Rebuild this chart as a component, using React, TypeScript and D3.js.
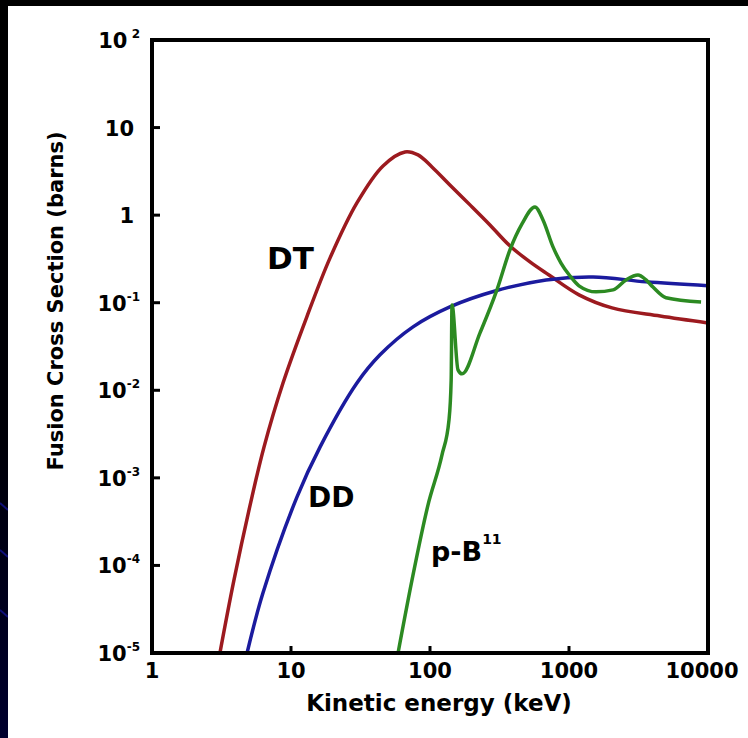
import React, { useEffect, useRef } from 'react';
import { select, scaleLog, line, curveCatmullRom, curveMonotoneX } from 'd3';

// energies in keV, cross sections in barns
const dtEnergy = [3.08, 3.89, 5.24, 6.4, 8.76, 13, 19.1, 29.8, 45.9, 66.1, 82, 103.3, 139, 194, 270, 370, 524, 718, 1180, 2040, 4520, 10000];
const dtSigma = [1e-5, 6.85e-5, 6.07e-4, 2.26e-3, 0.0121, 0.069, 0.325, 1.38, 3.65, 5.27, 4.87, 3.55, 2.21, 1.31, 0.773, 0.457, 0.292, 0.207, 0.123, 0.0873, 0.0706, 0.0588];

const ddEnergy = [4.83, 6.29, 11.05, 16.2, 29.8, 43.7, 75.5, 139, 294, 684, 1489, 3584, 10000];
const ddSigma = [1e-5, 4.87e-5, 6.07e-4, 2.26e-3, 0.0121, 0.0254, 0.053, 0.0895, 0.136, 0.182, 0.197, 0.173, 0.156];

const pbEnergy = [58.9, 75.5, 96.8, 122, 137, 142, 144, 159, 170, 229, 303, 376, 459, 569, 650, 767, 876, 1017, 1180, 1565, 2074, 2572, 3136, 3584, 4018, 4986, 8913];
const pbSigma = [1e-5, 7.8e-5, 4.92e-4, 1.83e-3, 4.6e-3, 0.0131, 0.0944, 0.0171, 0.0154, 0.0452, 0.14, 0.401, 0.794, 1.24, 0.881, 0.434, 0.284, 0.202, 0.156, 0.133, 0.14, 0.182, 0.207, 0.182, 0.151, 0.114, 0.102];

const xTicks = [1, 10, 100, 1000, 10000];
const xTickLabels = ['1', '10', '100', '1000', '10000'];
const yTicks = [100, 10, 1, 0.1, 0.01, 0.001, 0.0001, 0.00001];
const yTickBase = ['10', '10', '1', '10', '10', '10', '10', '10'];
const yTickExp = [' 2', '', '', '-1', '-2', '-3', '-4', '-5'];

const W = 748;
const H = 738;
const left = 152;
const right = 708;
const top = 40;
const bottom = 653;
const font = 'DejaVu Sans, Verdana, sans-serif';

export default function App() {
  const svgRef = useRef(null);

  useEffect(() => {
    const svg = select(svgRef.current);
    svg.selectAll('*').remove();

    const x = scaleLog().domain([1, 10000]).range([left, right]);
    const y = scaleLog().domain([1e-5, 100]).range([bottom, top]);

    // background
    const defs = svg.append('defs');
    const grad = defs.append('linearGradient').attr('id', 'strip').attr('x1', 0).attr('y1', 0).attr('x2', 0).attr('y2', 1);
    grad.append('stop').attr('offset', '0%').attr('stop-color', '#000000');
    grad.append('stop').attr('offset', '60%').attr('stop-color', '#000008');
    grad.append('stop').attr('offset', '100%').attr('stop-color', '#00002e');
    defs.append('clipPath').attr('id', 'plot')
      .append('rect').attr('x', left).attr('y', top).attr('width', right - left).attr('height', bottom - top);

    svg.append('rect').attr('width', W).attr('height', H).attr('fill', '#000');
    svg.append('rect').attr('x', 0).attr('y', 0).attr('width', 8).attr('height', H).attr('fill', 'url(#strip)');
    [503, 550, 610].forEach(v => {
      svg.append('line').attr('x1', 0).attr('y1', v).attr('x2', 8).attr('y2', v + 7)
        .attr('stroke', '#10107a').attr('stroke-width', 2);
    });
    svg.append('rect').attr('x', 8).attr('y', 6).attr('width', W - 8).attr('height', H - 6).attr('fill', '#fff');

    // curves
    const series = [
      { e: dtEnergy, s: dtSigma, color: '#9c1a1f', curve: curveCatmullRom },
      { e: ddEnergy, s: ddSigma, color: '#1b1b9e', curve: curveCatmullRom },
      { e: pbEnergy, s: pbSigma, color: '#2c8a22', curve: curveMonotoneX },
    ];
    const g = svg.append('g').attr('clip-path', 'url(#plot)');
    series.forEach(d => {
      const pts = d.e.map((v, i) => [v, d.s[i]]);
      const path = line()
        .x(p => x(p[0]))
        .y(p => y(p[1]))
        .curve(d.curve);
      g.append('path')
        .attr('d', path(pts))
        .attr('fill', 'none')
        .attr('stroke', d.color)
        .attr('stroke-width', 3.5)
        .attr('stroke-linejoin', 'round');
    });

    // frame and ticks
    svg.append('rect')
      .attr('x', left).attr('y', top)
      .attr('width', right - left).attr('height', bottom - top)
      .attr('fill', 'none').attr('stroke', '#000').attr('stroke-width', 4);

    yTicks.slice(1, -1).forEach(t => {
      svg.append('line').attr('x1', left).attr('x2', left + 8).attr('y1', y(t)).attr('y2', y(t))
        .attr('stroke', '#000').attr('stroke-width', 3);
    });
    xTicks.slice(1, -1).forEach(t => {
      svg.append('line').attr('x1', x(t)).attr('x2', x(t)).attr('y1', bottom).attr('y2', bottom - 7)
        .attr('stroke', '#000').attr('stroke-width', 3);
    });

    // tick labels
    xTicks.forEach((t, i) => {
      svg.append('text')
        .attr('x', x(t) - (i === xTicks.length - 1 ? 6 : 0))
        .attr('y', bottom + 25)
        .attr('text-anchor', 'middle')
        .attr('font-family', font).attr('font-weight', 'bold').attr('font-size', 21)
        .text(xTickLabels[i]);
    });
    yTicks.forEach((t, i) => {
      const txt = svg.append('text')
        .attr('x', yTickExp[i] ? 140 : 134)
        .attr('y', y(t) + 8)
        .attr('text-anchor', 'end')
        .attr('font-family', font).attr('font-weight', 'bold').attr('font-size', 21);
      txt.append('tspan').text(yTickBase[i]);
      if (yTickExp[i]) {
        txt.append('tspan').attr('dy', -10).attr('font-size', 12).attr('xml:space', 'preserve').text(yTickExp[i]);
      }
    });

    // axis titles
    svg.append('text')
      .attr('x', 439).attr('y', 711)
      .attr('text-anchor', 'middle')
      .attr('font-family', font).attr('font-weight', 'bold').attr('font-size', 23)
      .text('Kinetic energy (keV)');
    svg.append('text')
      .attr('transform', 'translate(63,301) rotate(-90)')
      .attr('text-anchor', 'middle')
      .attr('font-family', font).attr('font-weight', 'bold').attr('font-size', 21)
      .text('Fusion Cross Section (barns)');

    // curve labels
    const label = (tx, ty, size, s) => svg.append('text')
      .attr('x', tx).attr('y', ty)
      .attr('font-family', font).attr('font-weight', 'bold').attr('font-size', size)
      .text(s);
    label(267, 269, 31, 'DT');
    label(308, 507, 28, 'DD');
    const pb = label(431, 561, 27, 'p-B');
    pb.append('tspan').attr('dy', -17).attr('font-size', 14).text('11');
  }, []);

  return (
    <React.Fragment>
      <svg ref={svgRef} width={W} height={H} style={{ position: 'fixed', left: 0, top: 0 }}></svg>
    </React.Fragment>
  );
}
